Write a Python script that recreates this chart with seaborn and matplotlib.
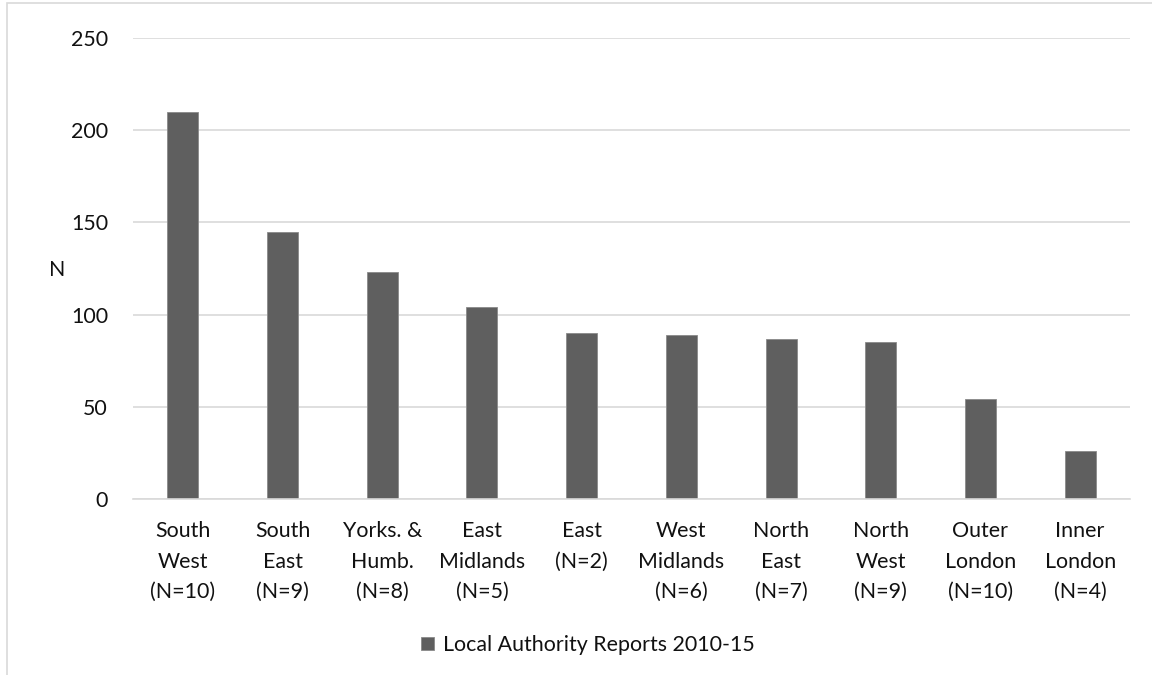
import matplotlib
matplotlib.use("Agg")
import matplotlib.pyplot as plt
import seaborn as sns
import pandas as pd
from matplotlib.patches import Rectangle, Patch

categories = ["South\nWest\n(N=10)", "South\nEast\n(N=9)", "Yorks. &\nHumb.\n(N=8)", "East\nMidlands\n(N=5)",
              "East\n(N=2)", "West\nMidlands\n(N=6)", "North\nEast\n(N=7)", "North\nWest\n(N=9)",
              "Outer\nLondon\n(N=10)", "Inner\nLondon\n(N=4)"]
values = [210, 145, 123, 104, 90, 89, 87, 85, 54, 26]
series_name = "Local Authority Reports 2010-15"
y_ticks = [0, 50, 100, 150, 200, 250]

sns.set_theme(style="white")
plt.rcParams["font.family"] = ["Lato", "DejaVu Sans"]

df = pd.DataFrame({"cat": categories, "val": values})

fig = plt.figure(figsize=(11.52, 6.75), dpi=100)
ax = fig.add_axes([133/1152, 1 - 499/675, (1130-133)/1152, (499-38)/675])

sns.barplot(data=df, x="cat", y="val", ax=ax, color="#5f5f5f", width=0.31,
            edgecolor="#8a8a8a", linewidth=0.6, saturation=1)

FS = 15.4
TXT = "#111111"
ax.set_ylim(0, 250)
ax.set_xlim(-0.5, len(categories) - 0.5)
ax.set_yticks(y_ticks)
ax.yaxis.grid(True, color="#d9d9d9", linewidth=1.2)
ax.set_axisbelow(True)
for s in ["top", "right", "left"]:
    ax.spines[s].set_visible(False)
ax.spines["bottom"].set_color("#d9d9d9")
ax.spines["bottom"].set_linewidth(1.2)
ax.tick_params(axis="both", length=0, labelsize=FS, colors=TXT)
ax.tick_params(axis="y", pad=18)
ax.tick_params(axis="x", pad=16)
ax.set_xlabel("")
ax.set_ylabel("N", rotation=0, fontsize=FS, color=TXT, va="center")
ax.yaxis.set_label_coords(-76/997, (499-270)/461)
for lbl in ax.get_xticklabels():
    lbl.set_linespacing(1.65)

handle = Patch(facecolor="#5f5f5f", edgecolor="#8a8a8a", linewidth=0.6)
fig.legend([handle], [series_name], loc="center", bbox_to_anchor=(588/1152, 1 - 645/675),
           frameon=False, fontsize=FS, labelcolor=TXT,
           handlelength=0.6, handleheight=0.6, handletextpad=0.4)

fig.patches.append(Rectangle((7/1152, -0.1), 1.2, 1 - 3/675 + 0.1, transform=fig.transFigure,
                             fill=False, edgecolor="#d9d9d9", linewidth=1.2))

fig.savefig("out.png", dpi=100, facecolor="white")
